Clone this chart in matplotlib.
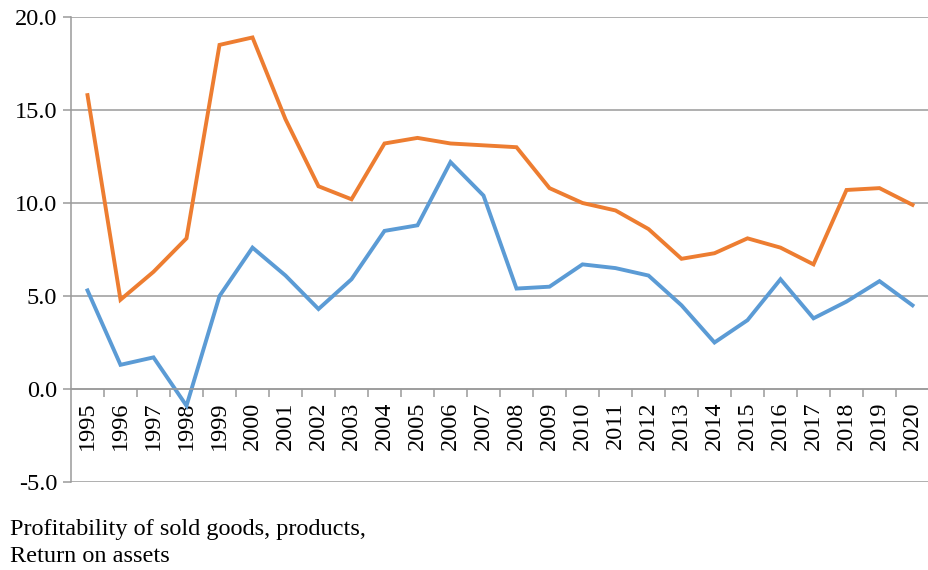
import matplotlib.pyplot as plt
from matplotlib.ticker import FixedLocator

plt.rcParams['font.family'] = ['Liberation Serif', 'DejaVu Serif']

years = list(range(1995, 2021))
profitability = [15.8, 4.8, 6.3, 8.1, 18.5, 18.9, 14.5, 10.9, 10.2, 13.2, 13.5, 13.2, 13.1,
                 13.0, 10.8, 10.0, 9.6, 8.6, 7.0, 7.3, 8.1, 7.6, 6.7, 10.7, 10.8, 9.9]
return_on_assets = [5.3, 1.3, 1.7, -0.9, 5.0, 7.6, 6.1, 4.3, 5.9, 8.5, 8.8, 12.2, 10.4,
                    5.4, 5.5, 6.7, 6.5, 6.1, 4.5, 2.5, 3.7, 5.9, 3.8, 4.7, 5.8, 4.5]
y_ticks = [-5, 0, 5, 10, 15, 20]

fig = plt.figure(figsize=(9.29, 5.70), dpi=100)
ax = fig.add_axes([71 / 929, 1 - 482 / 570, 1 - 71 / 929, (482 - 17) / 570])

x = list(range(len(years)))
ax.plot(x, return_on_assets, color='#5B9BD5', linewidth=2.8, solid_joinstyle='miter')
ax.plot(x, profitability, color='#ED7D31', linewidth=2.8, solid_joinstyle='miter')

ax.set_xlim(-0.5, len(years) - 0.5)
ax.set_ylim(-5, 20)
ax.set_yticks(y_ticks)
ax.set_yticklabels([f'{v:.1f}' for v in y_ticks], fontsize=17.5)
ax.yaxis.grid(True, color='#9a9a9a', linewidth=1.1)
ax.set_axisbelow(True)

for s in ['top', 'right']:
    ax.spines[s].set_visible(False)
ax.spines['left'].set_color('#9a9a9a')
ax.spines['left'].set_linewidth(1.1)
ax.spines['bottom'].set_position(('data', 0))
ax.spines['bottom'].set_color('#9a9a9a')
ax.spines['bottom'].set_linewidth(1.1)

ax.set_xticks(x)
ax.set_xticklabels([str(y) for y in years], rotation=90, fontsize=17.5)
ax.tick_params(axis='x', which='major', length=0, pad=9)
ax.xaxis.set_minor_locator(FixedLocator([i + 0.5 for i in x]))
ax.tick_params(axis='x', which='minor', length=6, color='#9a9a9a', width=1.1)
ax.tick_params(axis='y', length=6, color='#9a9a9a', width=1.1, pad=4)

fig.text(10 / 929, 1 - 530 / 570, 'Profitability of sold goods, products,', fontsize=17.5, va='center')
fig.text(10 / 929, 1 - 557 / 570, 'Return on assets', fontsize=17.5, va='center')

fig.savefig('out.png', dpi=100)
